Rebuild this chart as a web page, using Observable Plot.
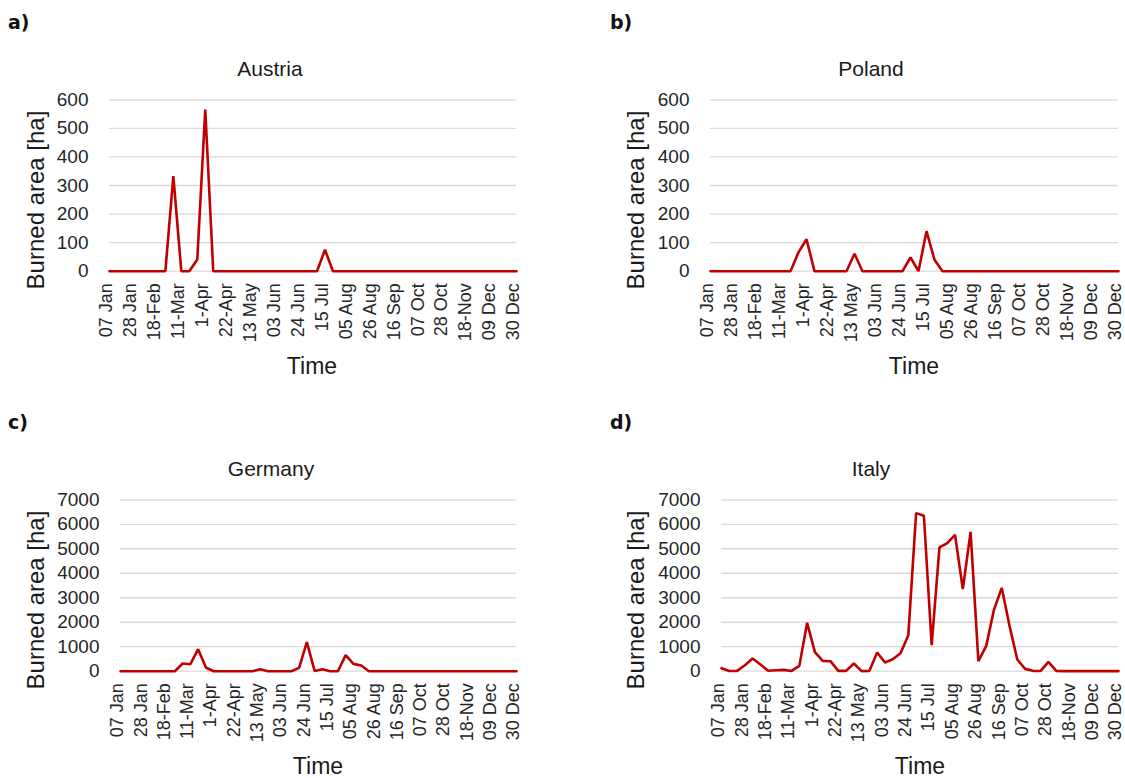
<!DOCTYPE html>
<html>
<head>
<meta charset="utf-8">
<script src="https://cdn.jsdelivr.net/npm/d3@7"></script>
<script src="https://cdn.jsdelivr.net/npm/@observablehq/plot@0.6"></script>
<style>
  html, body { margin: 0; padding: 0; background: #fff; }
  #root { position: relative; width: 1125px; height: 778px; overflow: hidden; font-family: "Liberation Sans", Arial, sans-serif; color: #262626; }
  #root svg { position: absolute; overflow: visible; }
  .lbl { position: absolute; white-space: nowrap; }
  .letter { font-family: "DejaVu Sans", sans-serif; font-weight: bold; font-size: 19px; color: #111; line-height: 20px; }
  .title { font-size: 21px; text-align: center; width: 300px; line-height: 24px; color: #1a1a1a; }
  .ylab { font-size: 24px; text-align: center; width: 320px; height: 26px; line-height: 26px; transform: rotate(-90deg); color: #1a1a1a; }
  .xlab { font-size: 23px; text-align: center; width: 200px; line-height: 24px; color: #1a1a1a; }
</style>
</head>
<body>
<div id="root"></div>
<script>
// ---- data ----
const tickLabels = ["07 Jan", "28 Jan", "18-Feb", "11-Mar", "1-Apr", "22-Apr", "13 May", "03 Jun", "24 Jun", "15 Jul", "05 Aug", "26 Aug", "16 Sep", "07 Oct", "28 Oct", "18-Nov", "09 Dec", "30 Dec"];
const countries = ["Austria", "Poland", "Germany", "Italy"];
const panelLetters = ["a)", "b)", "c)", "d)"];

const austria = [0,0,0,0,0,0,0,0,333,0,0,41,566,0,0,0,0,0,0,0,0,0,0,0,0,0,0,75,0,0,0,0,0,0,0,0,0,0,0,0,0,0,0,0,0,0,0,0,0,0,0,0];
const poland  = [0,0,0,0,0,0,0,0,0,0,0,66,112,0,0,0,0,0,61,0,0,0,0,0,0,48,0,140,40,0,0,0,0,0,0,0,0,0,0,0,0,0,0,0,0,0,0,0,0,0,0,0];
const germany = [0,0,0,0,0,0,0,0,313,286,899,150,0,0,0,0,0,0,80,0,0,0,0,136,1185,10,80,0,0,654,300,232,0,0,0,0,0,0,0,0,0,0,0,0,0,0,0,0,0,0,0,0];
const italy   = [123,10,15,245,517,272,20,40,55,10,218,1975,776,422,409,15,15,313,5,15,763,354,490,735,1471,6456,6347,1062,5053,5230,5571,3350,5693,409,1021,2506,3405,1852,477,95,15,10,381,15,5,5,5,5,5,5,5,5];

const seriesList = [austria, poland, germany, italy];
const yMax = [600, 600, 7000, 7000];
const yStep = [100, 100, 1000, 1000];

// ---- layout (panel geometry) ----
const panels = [
  {left: 0,   top: 80,  width: 560, height: 300, px0: 109, px1: 516, py0: 99.3,  py1: 270.7, titleX: 270, titleY: 69,  ylabX: 36,  ylabY: 200, timeX: 312, timeY: 366, letterX: 8,   letterY: 12},
  {left: 600, top: 80,  width: 525, height: 300, px0: 710, px1: 1118, py0: 99.3, py1: 270.7, titleX: 871, titleY: 69,  ylabX: 636, ylabY: 200, timeX: 914, timeY: 366, letterX: 610, letterY: 12},
  {left: 0,   top: 480, width: 560, height: 298, px0: 120, px1: 516, py0: 499.3, py1: 670.7, titleX: 271, titleY: 469, ylabX: 36,  ylabY: 600, timeX: 318, timeY: 766, letterX: 8,   letterY: 412},
  {left: 600, top: 480, width: 525, height: 298, px0: 721, px1: 1118, py0: 499.3, py1: 670.7, titleX: 871, titleY: 469, ylabX: 636, ylabY: 600, timeX: 920, timeY: 766, letterX: 610, letterY: 412}
];

const root = document.getElementById("root");

function addLabel(cls, text, x, y, w, h) {
  const d = document.createElement("div");
  d.className = "lbl " + cls;
  d.textContent = text;
  d.style.left = (x - w / 2) + "px";
  d.style.top = (y - h / 2) + "px";
  root.appendChild(d);
  return d;
}

panels.forEach((p, k) => {
  const vals = seriesList[k];
  const data = vals.map((v, i) => ({week: i, value: v}));
  const yTicks = d3.range(0, yMax[k] + 1, yStep[k]);
  const xTicks = d3.range(0, 52, 3);

  const chart = Plot.plot({
    width: p.width,
    height: p.height,
    marginLeft: p.px0 - p.left,
    marginRight: p.left + p.width - p.px1,
    marginTop: p.py0 - p.top,
    marginBottom: p.top + p.height - p.py1,
    style: {fontFamily: "'Liberation Sans', Arial, sans-serif", fontSize: "19px", color: "#262626", background: "transparent"},
    x: {domain: [0, 51]},
    y: {domain: [0, yMax[k]]},
    marks: [
      Plot.gridY(yTicks, {stroke: "#d9d9d9", strokeOpacity: 1, strokeWidth: 1.3}),
      Plot.axisY(yTicks, {tickSize: 0, tickPadding: 21, label: null, fontSize: 19, tickFormat: d => String(d)}),
      Plot.axisX(xTicks, {tickSize: 0, tickPadding: 12, tickRotate: -90, label: null, fontSize: 18, dx: -3, tickFormat: i => tickLabels[i / 3]}),
      Plot.lineY(data, {x: "week", y: "value", stroke: "#c00000", strokeWidth: 2.6, strokeLinejoin: "miter"})
    ]
  });
  chart.style.left = p.left + "px";
  chart.style.top = p.top + "px";
  root.appendChild(chart);

  const lt = document.createElement("div");
  lt.className = "lbl letter";
  lt.textContent = panelLetters[k];
  lt.style.left = p.letterX + "px";
  lt.style.top = p.letterY + "px";
  root.appendChild(lt);

  addLabel("title", countries[k], p.titleX, p.titleY, 300, 24);
  addLabel("ylab", "Burned area [ha]", p.ylabX, p.ylabY, 320, 26);
  addLabel("xlab", "Time", p.timeX, p.timeY, 200, 24);
});
</script>
</body>
</html>
